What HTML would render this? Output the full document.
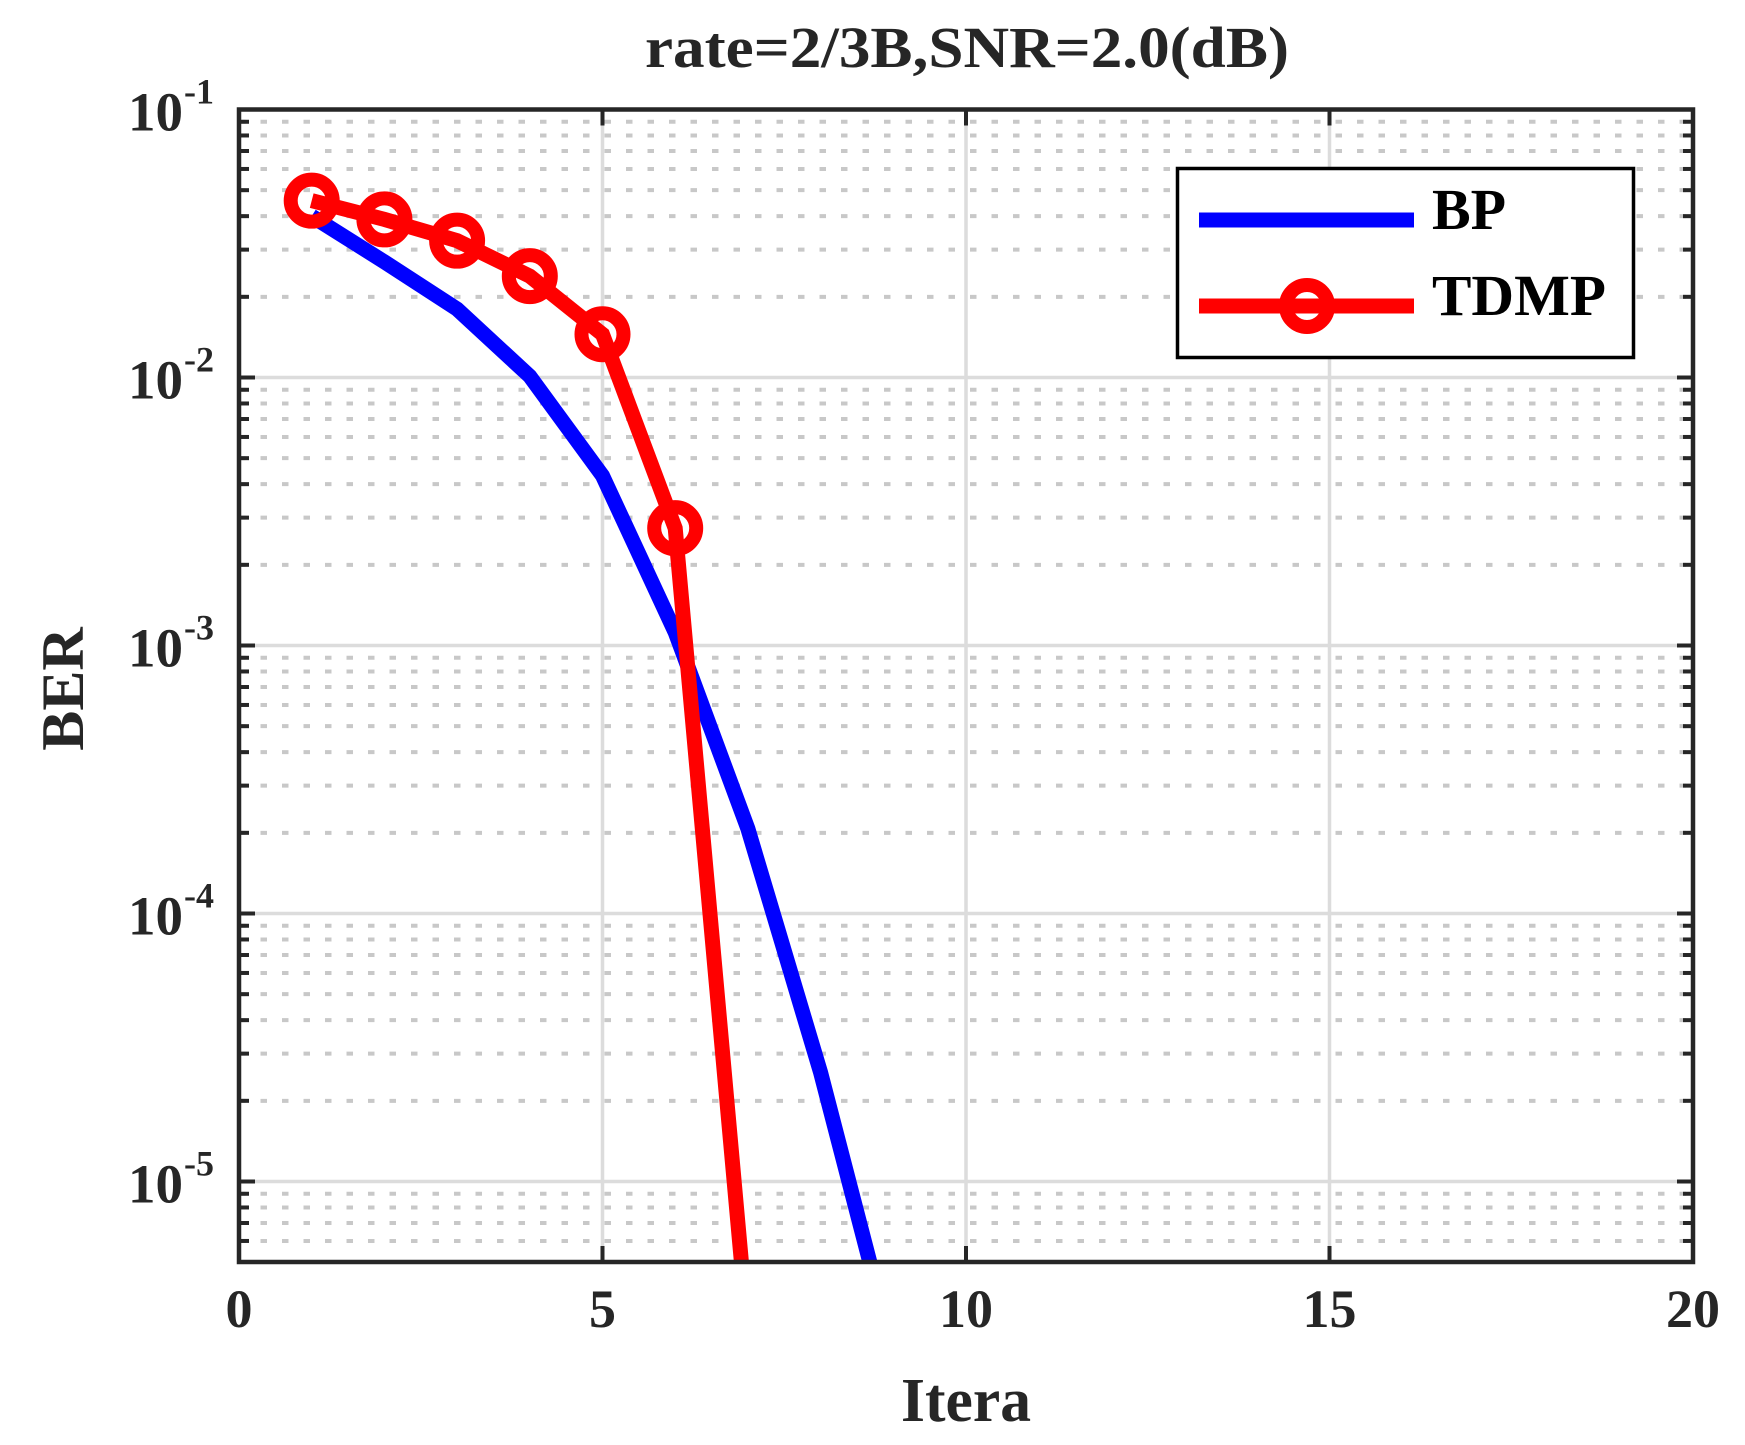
<!DOCTYPE html>
<html><head><meta charset="utf-8"><style>
html,body{margin:0;padding:0;background:#fff;}
svg{display:block;}
text{font-family:"Liberation Serif",serif;font-weight:bold;fill:#262626;}
</style></head><body>
<svg id="s" width="1745" height="1445" viewBox="0 0 1745 1445" xmlns="http://www.w3.org/2000/svg">
<defs><clipPath id="c"><rect x="239" y="109.5" width="1454" height="1152.5"/></clipPath></defs>
<g id="grid"></g>
<g id="data" clip-path="url(#c)"></g>
<rect x="239" y="109.5" width="1454" height="1152.5" fill="none" stroke="#262626" stroke-width="4.5"/>
<g id="ticks"></g>
<g id="labels"></g>
<text x="967" y="67" font-size="58" text-anchor="middle" textLength="644" lengthAdjust="spacingAndGlyphs">rate=2/3B,SNR=2.0(dB)</text>
<text x="966" y="1421" font-size="62" text-anchor="middle" textLength="130" lengthAdjust="spacingAndGlyphs">Itera</text>
<text transform="translate(83,689) rotate(-90)" font-size="60" text-anchor="middle">BER</text>
<rect x="1177.5" y="168.5" width="456" height="189" fill="#fff" stroke="#000" stroke-width="3.5"/>
<line x1="1199" y1="220" x2="1414" y2="220" stroke="#0000ff" stroke-width="15"/>
<line x1="1199" y1="306" x2="1414" y2="306" stroke="#ff0000" stroke-width="15"/>
<circle cx="1307" cy="306" r="21" fill="none" stroke="#ff0000" stroke-width="14"/>
<text x="1432" y="229" font-size="58" style="fill:#000">BP</text>
<text x="1432" y="315" font-size="58" style="fill:#000" textLength="174" lengthAdjust="spacingAndGlyphs">TDMP</text>
</svg>
<script>
var NS="http://www.w3.org/2000/svg";
function el(p,t,a){var e=document.createElementNS(NS,t);for(var k in a)e.setAttribute(k,a[k]);document.getElementById(p).appendChild(e);return e;}
var L=239,R=1693,T=109.5,B=1262,PX=(R-L)/20,PD=268;
function X(x){return L+x*PX;}
function Y(v){return T+(-1-Math.log10(v))*PD;}
for(var d=-6;d<=-2;d++){for(var m=2;m<=9;m++){var v=m*Math.pow(10,d);var y=Y(v);if(y<T+1||y>B-1)continue;
el("grid","line",{x1:L,x2:R,y1:y,y2:y,stroke:"#c8c8c8","stroke-width":4,"stroke-dasharray":"6.5 15"});
el("ticks","line",{x1:L,x2:L+10,y1:y,y2:y,stroke:"#262626","stroke-width":4});
el("ticks","line",{x1:R-10,x2:R,y1:y,y2:y,stroke:"#262626","stroke-width":4});}}
for(var d=-2;d>=-5;d--){var y=Y(Math.pow(10,d));el("grid","line",{x1:L,x2:R,y1:y,y2:y,stroke:"#dcdcdc","stroke-width":3.5});
el("ticks","line",{x1:L,x2:L+16,y1:y,y2:y,stroke:"#262626","stroke-width":4});el("ticks","line",{x1:R-16,x2:R,y1:y,y2:y,stroke:"#262626","stroke-width":4});}
for(var i=5;i<20;i+=5){var x=X(i);el("grid","line",{x1:x,x2:x,y1:T,y2:B,stroke:"#dcdcdc","stroke-width":3.5});
el("ticks","line",{x1:x,x2:x,y1:T,y2:T+16,stroke:"#262626","stroke-width":4});el("ticks","line",{x1:x,x2:x,y1:B-16,y2:B,stroke:"#262626","stroke-width":4});}
for(var i=0;i<=20;i+=5){var t=el("labels","text",{x:X(i),y:1327,"font-size":54,"text-anchor":"middle"});t.textContent=i;}
for(var d=1;d<=5;d++){var y=Y(Math.pow(10,-d));var t=el("labels","text",{x:183,y:y+21,"font-size":55,"text-anchor":"end"});t.textContent="10";
var e=el("labels","text",{x:184,y:y-6,"font-size":36,"text-anchor":"start"});e.textContent="-"+d;}
var bp=[[1,0.04],[2,0.027],[3,0.018],[4,0.0101],[5,0.0043],[6,0.00112],[7,0.000207],[8,0.0000255],[9,0.0000023]];
var td=[[1,0.0457],[2,0.0389],[3,0.0324],[4,0.0239],[5,0.0145],[6,0.00274],[7,0.0000027]];
function pts(a){return a.map(function(p){return X(p[0]).toFixed(1)+","+Y(p[1]).toFixed(1);}).join(" ");}
el("data","polyline",{points:pts(bp),fill:"none",stroke:"#0000ff","stroke-width":15,"stroke-linejoin":"miter"});
el("data","polyline",{points:pts(td),fill:"none",stroke:"#ff0000","stroke-width":15});
td.forEach(function(p){el("data","circle",{cx:X(p[0]),cy:Y(p[1]),r:21,fill:"none",stroke:"#ff0000","stroke-width":14});});
</script>
</body></html>
